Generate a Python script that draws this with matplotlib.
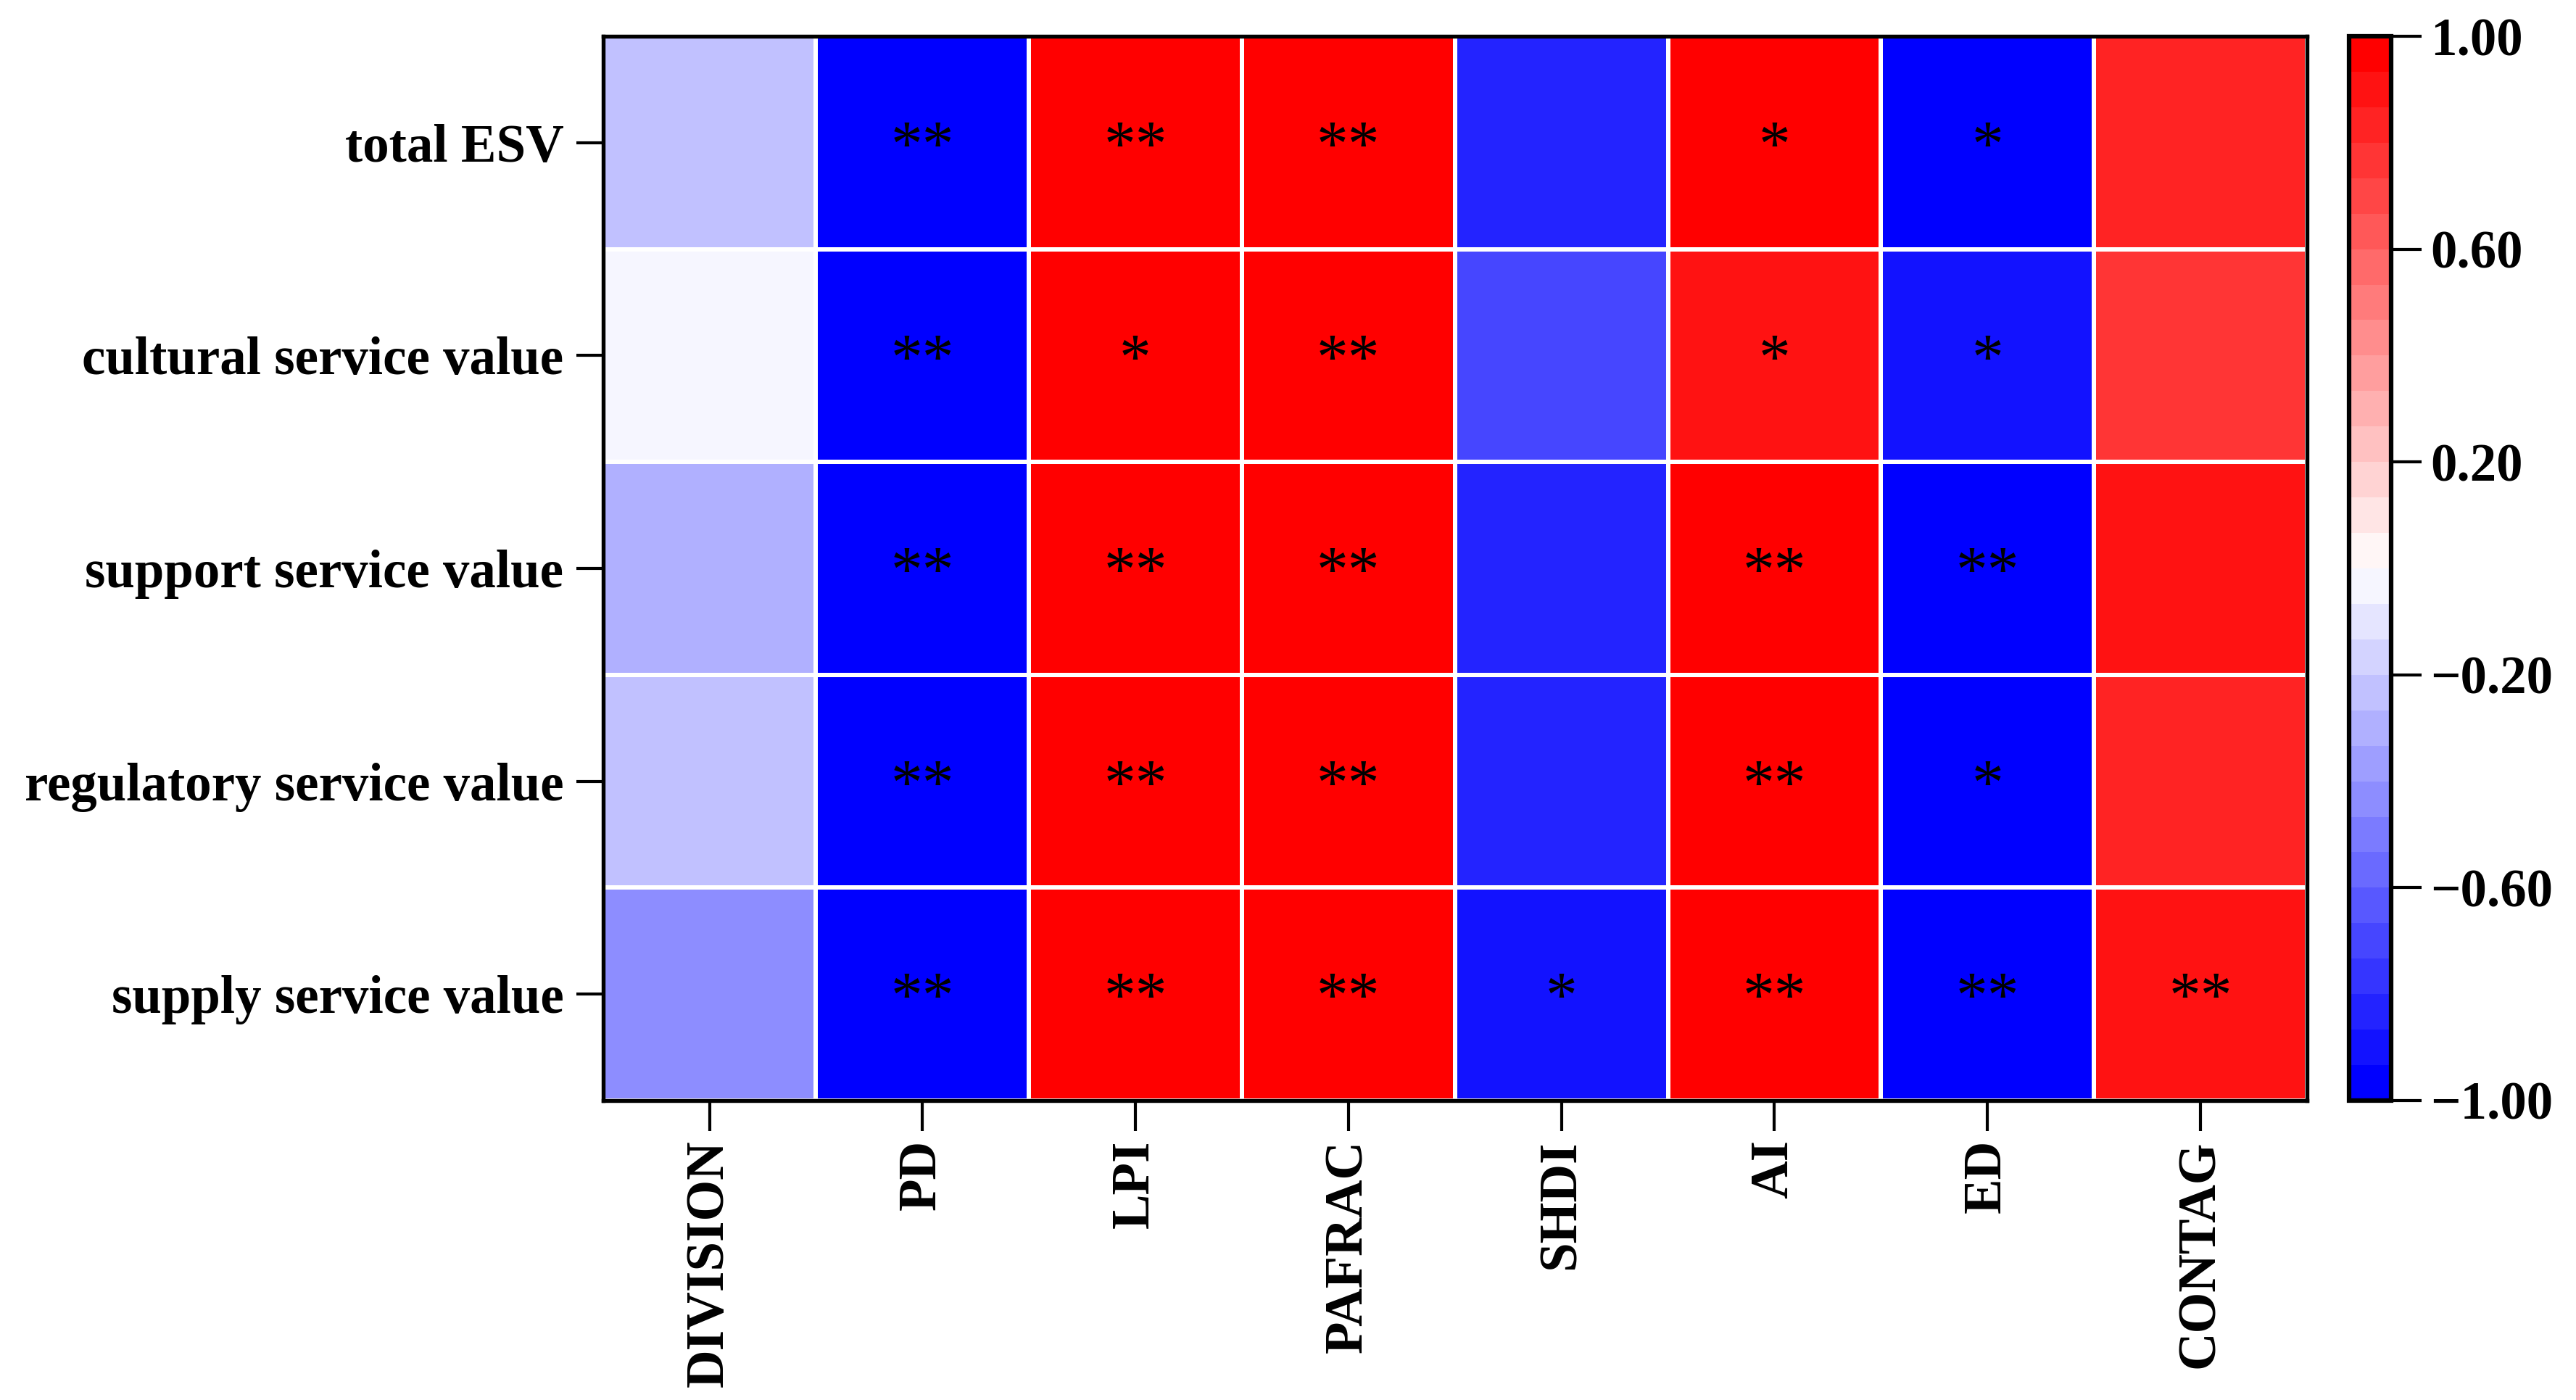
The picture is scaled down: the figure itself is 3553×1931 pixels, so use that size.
import matplotlib
matplotlib.use('Agg')
import matplotlib.pyplot as plt
import numpy as np

plt.rcParams['font.family'] = ['Liberation Serif', 'DejaVu Serif']

# rows (top to bottom) and columns
services = ['total ESV', 'cultural service value', 'support service value',
            'regulatory service value', 'supply service value']
metrics = ['DIVISION', 'PD', 'LPI', 'PAFRAC', 'SHDI', 'AI', 'ED', 'CONTAG']

division = [-0.23, -0.04, -0.30, -0.23, -0.44]
pd_vals  = [-0.98, -0.97, -0.98, -0.97, -0.98]
lpi      = [0.98, 0.97, 0.98, 0.97, 0.97]
pafrac   = [0.98, 0.97, 0.98, 0.98, 0.98]
shdi     = [-0.84, -0.71, -0.84, -0.84, -0.92]
ai       = [0.97, 0.90, 0.97, 0.97, 0.97]
ed       = [-0.97, -0.92, -0.97, -0.97, -0.97]
contag   = [0.84, 0.78, 0.91, 0.84, 0.91]

# significance marks, row by row
signif = [
    ['', '**', '**', '**', '', '*', '*', ''],
    ['', '**', '*', '**', '', '*', '*', ''],
    ['', '**', '**', '**', '', '**', '**', ''],
    ['', '**', '**', '**', '', '**', '*', ''],
    ['', '**', '**', '**', '*', '**', '**', '**'],
]

cbar_ticks = [-1.0, -0.6, -0.2, 0.2, 0.6, 1.0]

corr = np.array([division, pd_vals, lpi, pafrac, shdi, ai, ed, contag]).T

fig = plt.figure(figsize=(3554 / 300, 1931 / 300), dpi=300)
ax = fig.add_axes([0.234, 0.2139, 0.6613, 0.7602])
cax = fig.add_axes([0.9117, 0.2139, 0.0163, 0.7602])

cmap = matplotlib.colormaps['bwr'].resampled(30)
mesh = ax.pcolormesh(corr, cmap=cmap, vmin=-1, vmax=1,
                     edgecolors='white', linewidth=1.0)
ax.set_xlim(0, len(metrics))
ax.set_ylim(len(services), 0)

for i in range(len(services)):
    for j in range(len(metrics)):
        if signif[i][j]:
            ax.text(j + 0.5, i + 0.53, signif[i][j], ha='center', va='center',
                    fontsize=21, color='black')

ax.set_xticks(np.arange(len(metrics)) + 0.5)
ax.set_xticklabels(metrics, rotation=90, fontsize=17.5, fontweight='bold')
ax.set_yticks(np.arange(len(services)) + 0.5)
ax.set_yticklabels(services, fontsize=17.5, fontweight='bold')
ax.tick_params(axis='x', length=10, width=1.0, pad=3)
ax.tick_params(axis='y', length=9, width=1.0, pad=4)
for s in ax.spines.values():
    s.set_linewidth(1.3)

cb = fig.colorbar(mesh, cax=cax, ticks=cbar_ticks)
cb.ax.set_yticklabels([('%.2f' % t).replace('-', '\u2212') for t in cbar_ticks])
for lab in cb.ax.get_yticklabels():
    lab.set_fontweight('bold')
    lab.set_fontsize(17.5)
cb.ax.tick_params(length=10, width=1.0, pad=3)
cb.outline.set_linewidth(1.5)

fig.savefig('out.png', dpi=300)
